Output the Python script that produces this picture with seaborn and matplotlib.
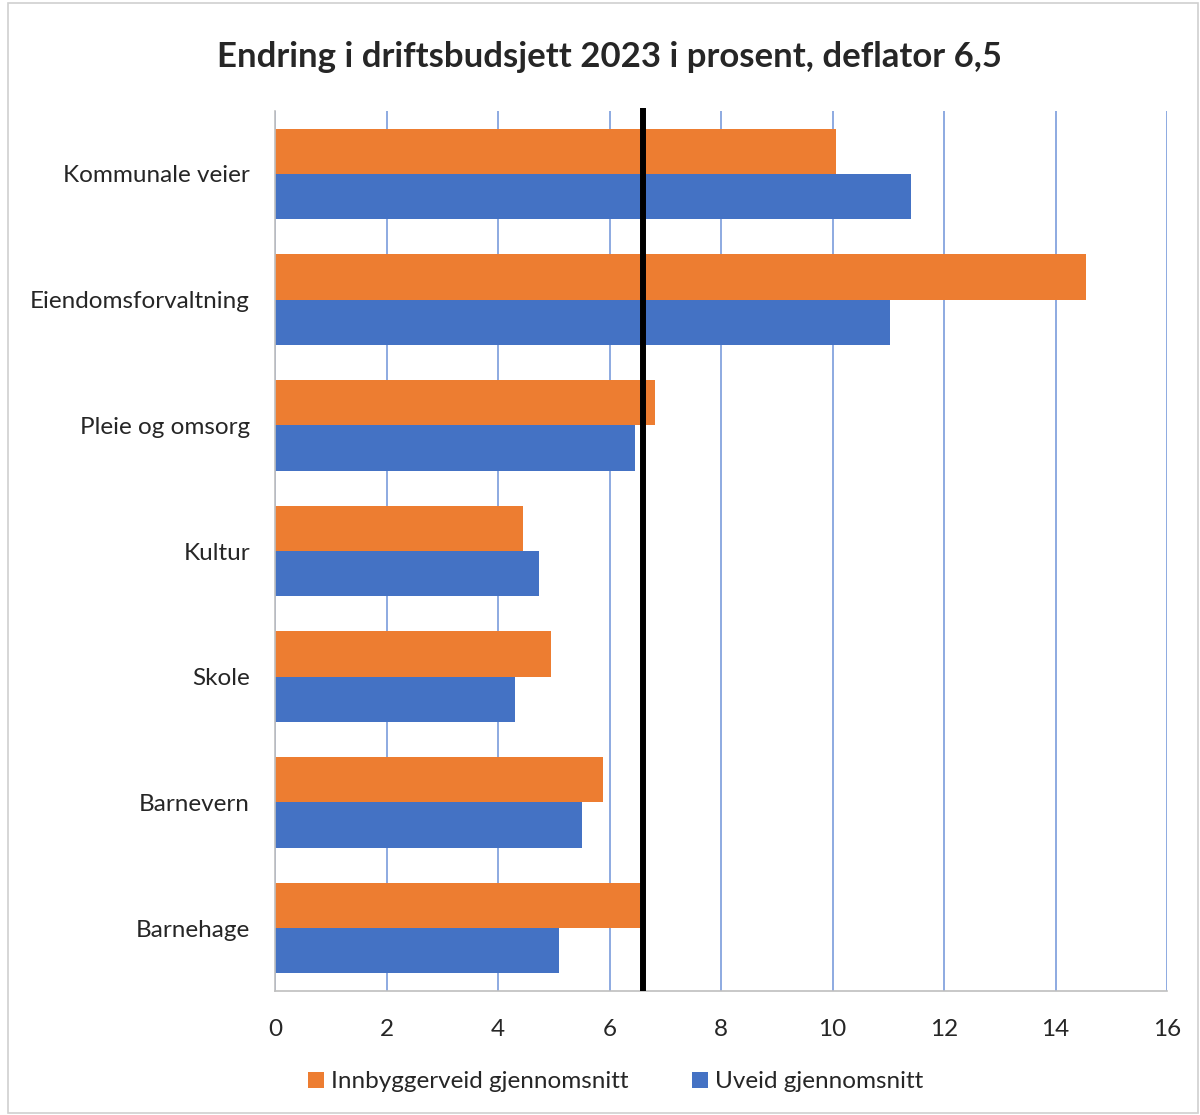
import matplotlib
matplotlib.use("Agg")
import matplotlib.pyplot as plt
import seaborn as sns
import pandas as pd
from matplotlib.patches import Patch, Rectangle

categories = ["Kommunale veier", "Eiendomsforvaltning", "Pleie og omsorg", "Kultur",
              "Skole", "Barnevern", "Barnehage"]
innbyggerveid = [10.06, 14.55, 6.82, 4.45, 4.95, 5.88, 6.54]
uveid = [11.41, 11.03, 6.46, 4.74, 4.30, 5.51, 5.09]
series_names = ["Innbyggerveid gjennomsnitt", "Uveid gjennomsnitt"]
deflator_line = 6.6
xticks = [0, 2, 4, 6, 8, 10, 12, 14, 16]
title = "Endring i driftsbudsjett 2023 i prosent, deflator 6,5"

df = pd.DataFrame({
    "kategori": categories * 2,
    "verdi": innbyggerveid + uveid,
    "serie": [series_names[0]] * len(categories) + [series_names[1]] * len(categories),
})

sns.set_theme(style="white")
plt.rcParams["font.family"] = ["Lato", "DejaVu Sans"]

colors = {series_names[0]: "#ED7D31", series_names[1]: "#4472C4"}

fig = plt.figure(figsize=(12, 11.15), dpi=100)
ax = fig.add_axes([275/1200, 1 - 991/1115, (1167-275)/1200, (991-111)/1115])

sns.barplot(data=df, x="verdi", y="kategori", hue="serie", hue_order=series_names,
            order=categories, palette=colors, orient="h", width=0.72,
            saturation=1, legend=False, linewidth=0, ax=ax)

ax.set_xlim(0, 16)
ax.set_xticks(xticks)
ax.set_xticklabels([str(t) for t in xticks], fontsize=17.5)
ax.tick_params(axis="y", labelsize=17.5, length=0, pad=18)
ax.tick_params(axis="x", length=0, pad=20)
ax.set_xlabel("")
ax.set_ylabel("")
ax.xaxis.grid(True, color="#7A9CDB", linewidth=1.2)
ax.set_axisbelow(True)
for s in ["top", "right"]:
    ax.spines[s].set_visible(False)
for s in ["left", "bottom"]:
    ax.spines[s].set_color("#BFBFBF")
    ax.spines[s].set_linewidth(1.2)

ax.axvline(deflator_line, ymin=0, ymax=1.003, color="black", linewidth=4.3,
           clip_on=False, zorder=5, solid_capstyle="butt")

fig.text(0.508, 1 - 57/1115, title, ha="center", va="center", fontsize=25, fontweight="bold")

handles = [Patch(facecolor=colors[n], edgecolor="none", label=n) for n in series_names]
fig.legend(handles=handles, loc="center", bbox_to_anchor=(0.513, 1 - 1082/1115), ncol=2,
           frameon=False, fontsize=17.5, handlelength=0.65, handleheight=0.65,
           handletextpad=0.3, columnspacing=2.6)

fig.patches.append(Rectangle((8/1200, 2/1115), 1190/1200, 1110/1115, transform=fig.transFigure,
                             fill=False, edgecolor="#D0D0D0", linewidth=1.2))

fig.savefig("out.png", dpi=100)
